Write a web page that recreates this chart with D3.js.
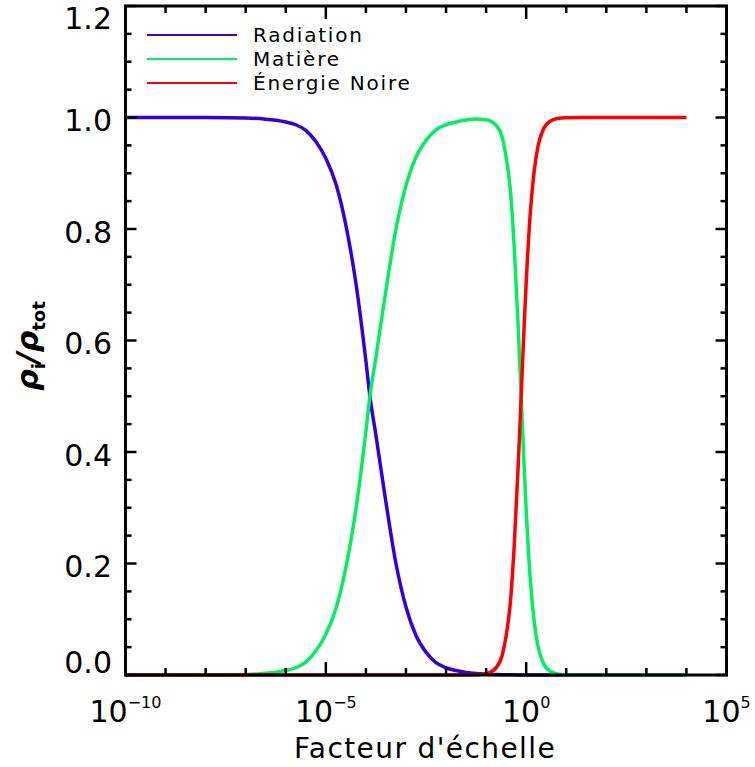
<!DOCTYPE html>
<html>
<head>
<meta charset="utf-8">
<script src="https://cdn.jsdelivr.net/npm/d3@7"></script>
<style>
  html, body { margin: 0; padding: 0; background: #fff; }
  svg { display: block; }
  text { font-family: "DejaVu Sans", sans-serif; fill: #000; }
</style>
</head>
<body>
<svg id="chart" width="755" height="767"></svg>
<script>
// ---- data ----
const logA = [-10, -9, -8, -7, -6.5, -6.25, -6, -5.75, -5.5, -5.25, -5, -4.75, -4.5, -4.25, -4, -3.9, -3.75, -3.5, -3.25, -3, -2.75, -2.5, -2.25, -2, -1.75, -1.5, -1.25, -1, -0.75, -0.6, -0.5, -0.4, -0.3, -0.2, -0.125, -0.05, 0, 0.1, 0.2, 0.3, 0.4, 0.5, 0.75, 1, 1.5, 2, 3, 4];
const radiation = [1.0, 1.0, 0.9999, 0.999, 0.997, 0.995, 0.992, 0.987, 0.977, 0.957, 0.927, 0.881, 0.807, 0.703, 0.563, 0.5, 0.43, 0.31, 0.2, 0.122, 0.071, 0.041, 0.022, 0.013, 0.008, 0.0045, 0.0025, 0.0015, 0.0009, 0.0006, 0.0005, 0.0004, 0.0003, 0.0002, 0.0002, 0.0001, 0.0001, 0.0001, 0, 0, 0, 0, 0, 0, 0, 0, 0, 0];
const matter = [0, 0, 0.0001, 0.001, 0.003, 0.005, 0.008, 0.013, 0.023, 0.043, 0.073, 0.119, 0.193, 0.297, 0.437, 0.5, 0.57, 0.69, 0.8, 0.878, 0.929, 0.959, 0.978, 0.987, 0.992, 0.9954, 0.9971, 0.9961, 0.986, 0.965, 0.929, 0.874, 0.77, 0.626, 0.5, 0.373, 0.297, 0.174, 0.096, 0.05, 0.026, 0.013, 0.0024, 0.0006, 0, 0, 0, 0];
const darkEnergy = [0, 0, 0, 0, 0, 0, 0, 0, 0, 0, 0, 0, 0, 0, 0, 0, 0, 0, 0, 0, 0, 0, 0, 0, 0, 0.0001, 0.0004, 0.0024, 0.013, 0.035, 0.0705, 0.126, 0.23, 0.374, 0.5, 0.627, 0.703, 0.826, 0.904, 0.95, 0.974, 0.987, 0.9976, 0.9994, 1, 1, 1, 1];

const seriesNames = ["Radiation", "Matière", "Énergie Noire"];
const seriesColors = ["#3300dd", "#00f060", "#ff0000"];
const seriesValues = [radiation, matter, darkEnergy];

const xMajorExp = [-10, -5, 0, 5];
const xMinorExp = d3.range(-10, 6, 1);
const yMajor = [0.0, 0.2, 0.4, 0.6, 0.8, 1.0, 1.2];
const yMinor = d3.range(0, 1.2001, 0.05);

// ---- layout ----
const L = 125.5, R = 726.5, T = 6, B = 675;
const svg = d3.select("#chart");
const x = d3.scaleLog().domain([1e-10, 1e5]).range([L, R]);
const y = d3.scaleLinear().domain([0, 1.2]).range([B, T]);

// data lines
const line = d3.line()
  .x(d => x(Math.pow(10, d[0])))
  .y(d => y(d[1]))
  .curve(d3.curveMonotoneX);

seriesValues.forEach((vals, i) => {
  const pts = logA.map((la, j) => [la, vals[j]]);
  svg.append("path")
    .attr("d", line(pts))
    .attr("fill", "none")
    .attr("stroke", seriesColors[i])
    .attr("stroke-width", 3.5)
    .attr("stroke-linejoin", "round");
});

// frame
svg.append("rect")
  .attr("x", L).attr("y", T)
  .attr("width", R - L).attr("height", B - T)
  .attr("fill", "none").attr("stroke", "#000").attr("stroke-width", 3);

// ticks
const tk = svg.append("g").attr("stroke", "#000").attr("stroke-width", 2.5);
xMinorExp.forEach(e => {
  const isMajor = xMajorExp.includes(e);
  const len = isMajor ? 13 : 7;
  const xx = x(Math.pow(10, e));
  tk.append("line").attr("x1", xx).attr("x2", xx).attr("y1", B).attr("y2", B - len);
  tk.append("line").attr("x1", xx).attr("x2", xx).attr("y1", T).attr("y2", T + len);
});
yMinor.forEach(v => {
  const isMajor = Math.abs(v * 5 - Math.round(v * 5)) < 1e-6;
  const len = isMajor ? 11 : 6;
  const yy = y(v);
  tk.append("line").attr("x1", L).attr("x2", L + len).attr("y1", yy).attr("y2", yy);
  tk.append("line").attr("x1", R).attr("x2", R - len).attr("y1", yy).attr("y2", yy);
});

// y tick labels
yMajor.forEach(v => {
  const yy = Math.max(18, Math.min(662, y(v) + 3));
  svg.append("text")
    .attr("x", 112).attr("y", yy)
    .attr("text-anchor", "end")
    .attr("dominant-baseline", "central")
    .attr("font-size", 30)
    .text(v.toFixed(1));
});

// x tick labels
xMajorExp.forEach(e => {
  const t = svg.append("text")
    .attr("x", x(Math.pow(10, e)))
    .attr("y", 722)
    .attr("text-anchor", "middle")
    .attr("font-size", 30);
  t.append("tspan").text("10");
  t.append("tspan").attr("dy", -14).attr("font-size", 16)
    .text(e < 0 ? "\u2212" + Math.abs(e) : String(e));
});

// axis titles
svg.append("text")
  .attr("x", 425).attr("y", 758)
  .attr("text-anchor", "middle")
  .attr("font-size", 28)
  .attr("letter-spacing", 1.4)
  .text("Facteur d'échelle");

const yt = svg.append("text")
  .attr("transform", "translate(38,346) rotate(-90)")
  .attr("text-anchor", "middle")
  .attr("font-size", 30)
  .attr("font-weight", "bold");
yt.append("tspan").attr("font-style", "italic").text("ρ");
yt.append("tspan").attr("dy", 7).attr("font-size", 18).text("i");
yt.append("tspan").attr("dy", -7).attr("font-style", "italic").text("/ρ");
yt.append("tspan").attr("dy", 7).attr("font-size", 18).text("tot");

// legend
const legY = [35, 59, 83];
seriesNames.forEach((name, i) => {
  svg.append("line")
    .attr("x1", 147).attr("x2", 237)
    .attr("y1", legY[i]).attr("y2", legY[i])
    .attr("stroke", seriesColors[i]).attr("stroke-width", 2.2);
  svg.append("text")
    .attr("x", 253).attr("y", legY[i] + 6.5)
    .attr("font-size", 20)
    .attr("letter-spacing", 1.8)
    .text(name);
});
</script>
</body>
</html>
